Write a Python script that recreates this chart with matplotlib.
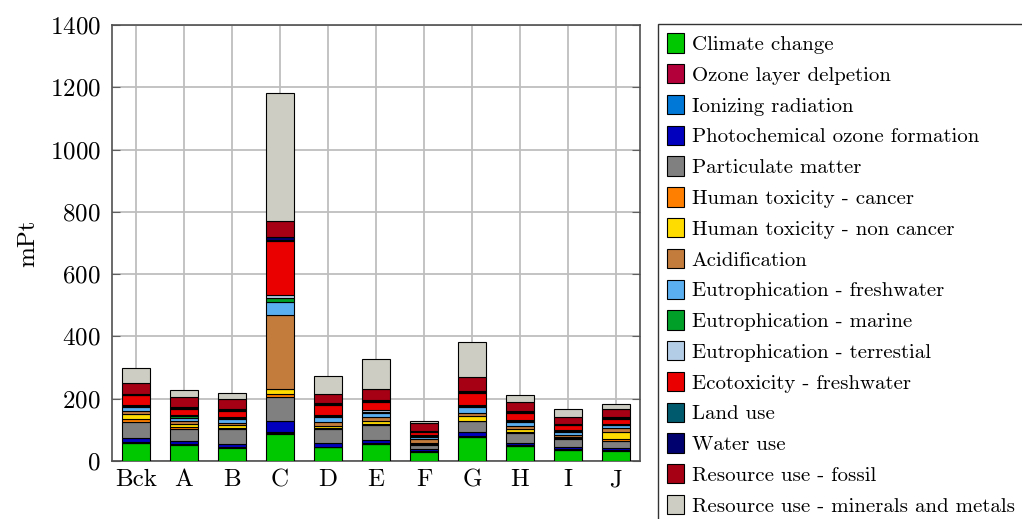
import numpy as np
import matplotlib.pyplot as plt
from matplotlib.patches import Patch

plt.rcParams['font.family'] = ['cmr10', 'DejaVu Serif']
plt.rcParams['axes.formatter.use_mathtext'] = True

scenarios = ['Bck', 'A', 'B', 'C', 'D', 'E', 'F', 'G', 'H', 'I', 'J']

categories = ['Climate change', 'Ozone layer delpetion', 'Ionizing radiation',
              'Photochemical ozone formation', 'Particulate matter',
              'Human toxicity - cancer', 'Human toxicity - non cancer',
              'Acidification', 'Eutrophication - freshwater',
              'Eutrophication - marine', 'Eutrophication - terrestial',
              'Ecotoxicity - freshwater', 'Land use', 'Water use',
              'Resource use - fossil', 'Resource use - minerals and metals']

colors = ['#00C800', '#B4003A', '#0078D7', '#0000BE', '#808080', '#FF8000',
          '#FFDC00', '#C47C3C', '#5AAFF0', '#00A028', '#B4CDE6', '#EB0000',
          '#005A6E', '#00006E', '#A50014', '#CDCDC3']

# values per impact category, one entry per scenario (Bck, A..J), mPt
climate       = [58, 52, 43, 88, 44, 55, 30, 76, 48, 35, 33]
ozone         = [1, 1, 1, 2, 1, 1, 1, 1, 1, 1, 1]
ionizing      = [2, 1, 1, 2, 1, 1, 1, 2, 1, 1, 1]
photochem     = [12, 9, 10, 37, 11, 10, 6, 14, 9, 7, 7]
particulate   = [53, 41, 47, 75, 46, 50, 14, 34, 32, 26, 23]
htox_cancer   = [9, 6, 5, 12, 2, 2, 3, 3, 2, 3, 5]
htox_noncanc  = [15, 9, 8, 15, 7, 8, 4, 13, 9, 4, 23]
acidification = [10, 8, 6, 238, 14, 13, 11, 12, 9, 7, 12]
eutro_fresh   = [15, 12, 13, 42, 14, 14, 6, 18, 14, 8, 9]
eutro_marine  = [3, 4, 3, 11, 4, 4, 3, 4, 4, 3, 3]
eutro_terr    = [3, 4, 3, 11, 5, 5, 3, 4, 4, 3, 3]
ecotox        = [30, 20, 21, 173, 32, 27, 12, 36, 22, 16, 16]
land_use      = [2, 2, 2, 4, 2, 2, 1, 3, 2, 2, 2]
water_use     = [3, 3, 3, 8, 3, 4, 2, 5, 3, 3, 2]
res_fossil    = [33, 32, 34, 53, 28, 34, 24, 45, 30, 23, 28]
res_minerals  = [50, 25, 19, 410, 59, 97, 8, 112, 21, 24, 15]

series = [climate, ozone, ionizing, photochem, particulate, htox_cancer,
          htox_noncanc, acidification, eutro_fresh, eutro_marine, eutro_terr,
          ecotox, land_use, water_use, res_fossil, res_minerals]

fig = plt.figure(figsize=(10.22, 5.19), dpi=100)
ax = fig.add_axes([112/1022, 1-461/519, (640-112)/1022, (461-25)/519])

x = np.arange(len(scenarios))
bottom = np.zeros(len(scenarios))
for vals, col in zip(series, colors):
    vals = np.array(vals, dtype=float)
    ax.bar(x, vals, 0.58, bottom=bottom, color=col, edgecolor='black',
           linewidth=0.8, zorder=3)
    bottom += vals

ax.set_xlim(-0.5, len(scenarios) - 0.5)
ax.set_ylim(0, 1400)
ax.set_yticks(np.arange(0, 1401, 200))
ax.set_xticks(x)
ax.set_xticklabels(scenarios)
ax.grid(True, color='#BEBEBE', linewidth=1.3, zorder=0)
ax.set_axisbelow(True)
ax.tick_params(axis='y', direction='in', length=6, right=True, labelsize=18,
               color='#606060', pad=8)
ax.tick_params(axis='x', length=0, labelsize=18, pad=6)
for sp in ax.spines.values():
    sp.set_color('#505050')
    sp.set_linewidth(1.2)
ax.set_ylabel('mPt', fontsize=18, labelpad=8)

handles = [Patch(facecolor=c, edgecolor='black', linewidth=0.8, label=l)
           for c, l in zip(colors, categories)]
leg = fig.legend(handles=handles, loc='upper left',
                 bbox_to_anchor=(658/1022, 1-24/519),
                 bbox_transform=fig.transFigure, fontsize=15,
                 frameon=True, fancybox=False, edgecolor='black',
                 handlelength=0.82, handleheight=1.05, handletextpad=0.35,
                 labelspacing=0.48, borderpad=0.45, borderaxespad=0)
leg.get_frame().set_linewidth(1.0)

fig.savefig('out.png', dpi=100)
